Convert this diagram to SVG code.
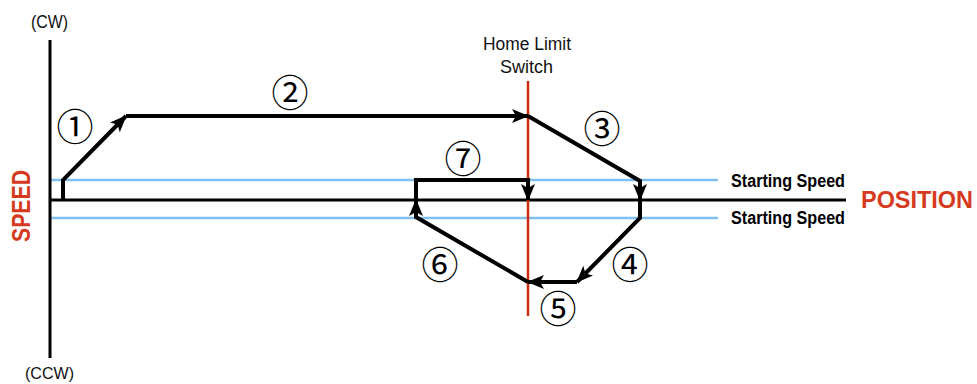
<svg xmlns="http://www.w3.org/2000/svg" width="977" height="384" viewBox="0 0 977 384">
<style>
.lbl{font-family:"Liberation Sans",Arial,sans-serif;fill:#111}
.bold{font-family:"Liberation Sans",Arial,sans-serif;font-weight:bold}
.red{fill:#d63a1e}
.num{font-family:"Noto Sans CJK JP","DejaVu Sans",sans-serif;font-size:37px;fill:#000;text-anchor:middle;dominant-baseline:central}
.mv{fill:none;stroke:#000;stroke-width:4;stroke-linejoin:miter}
.blue{stroke:#80bff2;stroke-width:2.5}
</style>
<defs>
<marker id="ah" markerUnits="userSpaceOnUse" markerWidth="18" markerHeight="14" refX="16" refY="7" orient="auto">
<path d="M0,0 L17,7 L0,14 L4,7 Z" fill="#000"/>
</marker>
</defs>
<rect width="977" height="384" fill="#fff"/>
<g id="axes">
<line class="blue" x1="50" y1="180" x2="718" y2="180"/>
<line class="blue" x1="50" y1="218" x2="718" y2="218"/>
<line x1="50" y1="40" x2="50" y2="358" stroke="#000" stroke-width="3"/>
<line x1="50" y1="200" x2="846" y2="200" stroke="#000" stroke-width="3"/>
<line x1="528" y1="81" x2="528" y2="316" stroke="#d02a10" stroke-width="2.5"/>
<text class="lbl" x="31" y="28" font-size="18" textLength="37" lengthAdjust="spacingAndGlyphs">(CW)</text>
<text class="lbl" x="25" y="379" font-size="17" textLength="49" lengthAdjust="spacingAndGlyphs">(CCW)</text>
<text class="bold red" transform="translate(30,206) rotate(-90)" font-size="26" text-anchor="middle" textLength="72" lengthAdjust="spacingAndGlyphs">SPEED</text>
<text class="bold red" x="861" y="208" font-size="24" textLength="112" lengthAdjust="spacingAndGlyphs">POSITION</text>
<text class="bold" x="731" y="187" font-size="18" textLength="114" lengthAdjust="spacingAndGlyphs">Starting Speed</text>
<text class="bold" x="731" y="224" font-size="18" textLength="114" lengthAdjust="spacingAndGlyphs">Starting Speed</text>
<text class="lbl" x="483" y="50" font-size="18" textLength="88" lengthAdjust="spacingAndGlyphs">Home Limit</text>
<text class="lbl" x="500" y="73" font-size="18" textLength="53" lengthAdjust="spacingAndGlyphs">Switch</text>
</g>
<g id="connectors">
<path id="s1" class="mv" d="M63,200 L63,180 L126,116" marker-end="url(#ah)"/>
<path id="s2" class="mv" d="M126,116 L528,116" marker-end="url(#ah)"/>
<path id="s3" class="mv" d="M528,116 L640,181 L640,200" marker-end="url(#ah)"/>
<path id="s4" class="mv" d="M640,200 L640,218 L577,282" marker-end="url(#ah)"/>
<path id="s5" class="mv" d="M577,282 L528,282" marker-end="url(#ah)"/>
<path id="s6" class="mv" d="M528,282 L416,217 L416,200" marker-end="url(#ah)"/>
<path id="s7" class="mv" d="M416,200 L416,180 L528,180 L528,200" marker-end="url(#ah)"/>
</g>
<g id="n1"><text class="num" x="75" y="125">①</text></g>
<g id="n2"><text class="num" x="290" y="91">②</text></g>
<g id="n3"><text class="num" x="602" y="127">③</text></g>
<g id="n4"><text class="num" x="630" y="263">④</text></g>
<g id="n5"><text class="num" x="558" y="307">⑤</text></g>
<g id="n6"><text class="num" x="440" y="263">⑥</text></g>
<g id="n7"><text class="num" x="463" y="157">⑦</text></g>
</svg>
